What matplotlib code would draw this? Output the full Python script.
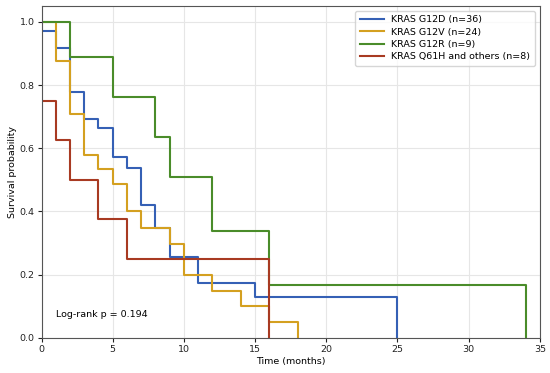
import matplotlib
matplotlib.use("Agg")
import matplotlib.pyplot as plt

# Kaplan-Meier step data (time of change, survival after change)
g12d_t = [0, 1, 2, 3, 4, 5, 6, 7, 8, 9, 11, 15, 25]
g12d_s = [0.972, 0.917, 0.778, 0.694, 0.664, 0.573, 0.537, 0.422, 0.348, 0.257, 0.174, 0.131, 0.0]

g12v_t = [0, 1, 2, 3, 4, 5, 6, 7, 9, 10, 12, 14, 16, 18]
g12v_s = [1.0, 0.875, 0.708, 0.578, 0.533, 0.487, 0.400, 0.349, 0.298, 0.200, 0.150, 0.100, 0.050, 0.0]

g12r_t = [0, 2, 5, 8, 9, 12, 16, 34]
g12r_s = [1.0, 0.889, 0.762, 0.635, 0.508, 0.339, 0.169, 0.0]

q61h_t = [0, 1, 2, 4, 6, 16]
q61h_s = [0.75, 0.625, 0.50, 0.375, 0.25, 0.0]

labels = ["KRAS G12D (n=36)", "KRAS G12V (n=24)", "KRAS G12R (n=9)", "KRAS Q61H and others (n=8)"]
colors = ["#3560b5", "#d4a020", "#4a8c2a", "#a83a22"]

fs = 6.8

fig = plt.figure(figsize=(5.5, 3.73), dpi=100)
ax = fig.add_axes([0.0755, 0.094, 0.906, 0.89])

for t, s, lab, c in zip([g12d_t, g12v_t, g12r_t, q61h_t],
                        [g12d_s, g12v_s, g12r_s, q61h_s], labels, colors):
    ax.step(t, s, where="post", color=c, lw=1.5, label=lab)

ax.set_xlim(0, 35)
ax.set_ylim(0, 1.05)
ax.set_xticks(range(0, 36, 5))
ax.set_yticks([0.0, 0.2, 0.4, 0.6, 0.8, 1.0])
ax.grid(True, color="#e6e6e6", lw=0.8)
ax.set_axisbelow(True)
for sp in ax.spines.values():
    sp.set_color("#555555")
ax.tick_params(labelsize=fs, colors="#222222", length=3, pad=2)
ax.set_xlabel("Time (months)", fontsize=fs, labelpad=2)
ax.set_ylabel("Survival probability", fontsize=fs, labelpad=2)
ax.text(1.05, 0.073, "Log-rank p = 0.194", fontsize=fs, va="center")
ax.legend(loc="upper right", fontsize=fs, frameon=True, handlelength=2.5,
          borderpad=0.5, labelspacing=0.35)

fig.savefig("out.png", dpi=100)
